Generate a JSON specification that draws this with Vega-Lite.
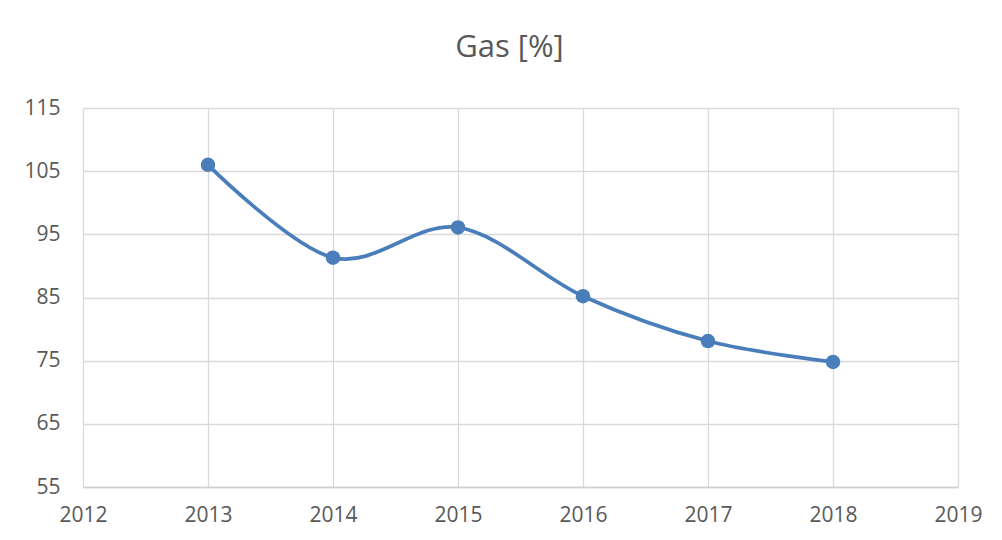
{
  "$schema": "https://vega.github.io/schema/vega-lite/v6.json",
  "width": 875,
  "height": 379,
  "autosize": {"type": "none"},
  "padding": {"left": 83, "top": 108, "right": 44, "bottom": 53},
  "background": "white",
  "config": {"view": {"stroke": null}, "font": "Open Sans"},
  "title": {
    "text": "Gas [%]",
    "fontSize": 31,
    "fontWeight": "normal",
    "color": "#595959",
    "anchor": "middle",
    "dx": -11,
    "offset": 33
  },
  "data": {
    "values": [
      {"year": 2013, "value": 106.0},
      {"year": 2014, "value": 91.3},
      {"year": 2015, "value": 96.1},
      {"year": 2016, "value": 85.2},
      {"year": 2017, "value": 78.1},
      {"year": 2018, "value": 74.8}
    ]
  },
  "encoding": {
    "x": {
      "field": "year",
      "type": "quantitative",
      "scale": {"domain": [2012, 2019], "nice": false, "zero": false},
      "axis": {
        "title": null,
        "values": [2012, 2013, 2014, 2015, 2016, 2017, 2018, 2019],
        "format": "d",
        "grid": true,
        "gridColor": "#d9d9d9",
        "gridWidth": 1.3,
        "ticks": false,
        "domain": true,
        "domainColor": "#d0d0d0",
        "domainWidth": 1.5,
        "labelFontSize": 21,
        "labelColor": "#595959",
        "labelPadding": 17,
        "labelFlush": false
      }
    },
    "y": {
      "field": "value",
      "type": "quantitative",
      "scale": {"domain": [55, 115], "nice": false, "zero": false},
      "axis": {
        "title": null,
        "values": [55, 65, 75, 85, 95, 105, 115],
        "grid": true,
        "gridColor": "#d9d9d9",
        "gridWidth": 1.3,
        "ticks": false,
        "domain": false,
        "labelFontSize": 21,
        "labelColor": "#595959",
        "labelPadding": 23,
        "labelFlush": false
      }
    }
  },
  "layer": [
    {
      "mark": {"type": "line", "interpolate": "cardinal", "color": "#4a7ebb", "strokeWidth": 3.7}
    },
    {
      "mark": {"type": "point", "shape": "circle", "filled": true, "opacity": 1, "size": 210, "color": "#4a7ebb"}
    }
  ]
}
